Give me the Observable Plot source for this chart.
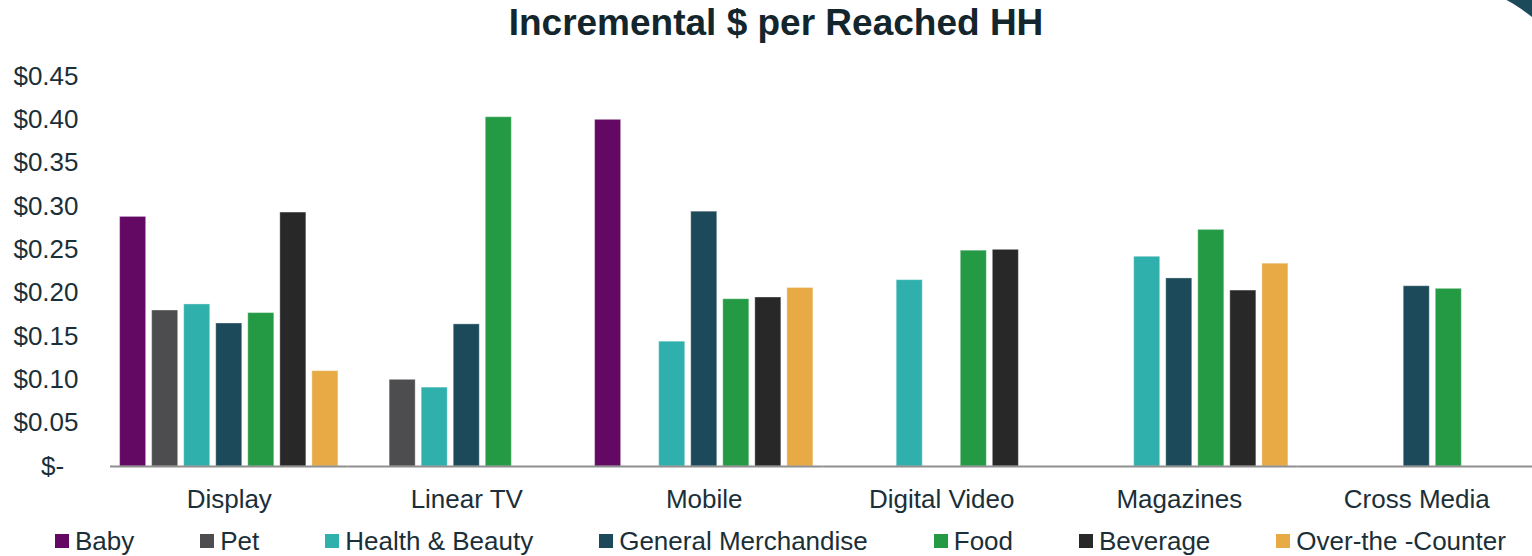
<!DOCTYPE html>
<html>
<head>
<meta charset="utf-8">
<script src="https://cdn.jsdelivr.net/npm/d3@7"></script>
<script src="https://cdn.jsdelivr.net/npm/@observablehq/plot@0.6"></script>
<style>
  html, body { margin: 0; padding: 0; background: #ffffff; }
  body { width: 1532px; height: 556px; position: relative; overflow: hidden;
         font-family: "Liberation Sans", Arial, sans-serif; }
  #title { position: absolute; top: 4px; left: 776px; transform: translateX(-50%);
           font-size: 37px; line-height: 37px; font-weight: bold; color: #13262e; white-space: nowrap; }
  #chart { position: absolute; top: 0; left: 0; }
  #legend { position: absolute; top: 528px; left: 55px; display: flex; gap: 66px;
            font-size: 26px; line-height: 26px; color: #1b2f38; white-space: nowrap; }
  #legend .item { display: flex; align-items: center; }
  #legend .sw { width: 14px; height: 14px; margin-right: 6px; }
  #corner { position: absolute; top: 0; left: 0; }
</style>
</head>
<body>
<div id="chart"></div>
<div id="title">Incremental $ per Reached HH</div>
<div id="legend"></div>
<svg id="corner" width="1532" height="40"><path d="M1506.5,0 L1532,0 L1532,17 Q1518,6 1506.5,0 Z" fill="#1d4a5a"/></svg>
<script>
const categories = ["Display", "Linear TV", "Mobile", "Digital Video", "Magazines", "Cross Media"];
const series = ["Baby", "Pet", "Health & Beauty", "General Merchandise", "Food", "Beverage", "Over-the -Counter"];
const colors = ["#630863", "#4d4d4f", "#2fb0ad", "#1c4a5a", "#249a44", "#282828", "#e8aa44"];
const baby        = [0.288, null,  0.400, null,  null,  null ];
const pet         = [0.180, 0.100, null,  null,  null,  null ];
const healthBeauty= [0.187, 0.091, 0.144, 0.215, 0.242, null ];
const generalMerch= [0.165, 0.164, 0.294, null,  0.217, 0.208];
const food        = [0.177, 0.403, 0.193, 0.249, 0.273, 0.205];
const beverage    = [0.293, null,  0.195, 0.250, 0.203, null ];
const otc         = [0.110, null,  0.206, null,  0.234, null ];
const yTicks = [0, 0.05, 0.10, 0.15, 0.20, 0.25, 0.30, 0.35, 0.40, 0.45];

const seriesValues = [baby, pet, healthBeauty, generalMerch, food, beverage, otc];
const data = [];
series.forEach((s, i) => {
  categories.forEach((c, j) => {
    const v = seriesValues[i][j];
    if (v != null) data.push({category: c, series: s, value: v});
  });
});

const chart = Plot.plot({
  width: 1532,
  height: 530,
  marginLeft: 110,
  marginRight: -3,
  marginTop: 76,
  marginBottom: 64,
  style: {fontFamily: '"Liberation Sans", Arial, sans-serif', fontSize: "26px", color: "#1b2f38", background: "transparent", overflow: "visible"},
  fx: {domain: categories, padding: 0, round: false, label: null},
  x: {domain: series, paddingInner: 0.1875, paddingOuter: 0.3, round: false, axis: null},
  y: {domain: [0, 0.45], label: null},
  color: {domain: series, range: colors},
  marks: [
    Plot.barY(data, {fx: "category", x: "series", y: "value", fill: "series", stroke: "#ffffff", strokeOpacity: 0.35, strokeWidth: 1}),
    Plot.ruleY([0], {stroke: "#8f8f8f", strokeWidth: 2}),
    Plot.axisY({ticks: yTicks, tickSize: 0, tickPadding: 32, fontSize: 26, label: null,
      tickFormat: d => d === 0 ? "$-\u00a0\u00a0" : "$" + d.toFixed(2)}),
    Plot.axisFx({anchor: "bottom", tickSize: 0, tickPadding: 23, fontSize: 26, label: null})
  ]
});
document.getElementById("chart").appendChild(chart);

const legend = document.getElementById("legend");
series.forEach((s, i) => {
  const item = document.createElement("div");
  item.className = "item";
  const sw = document.createElement("span");
  sw.className = "sw";
  sw.style.background = colors[i];
  const t = document.createElement("span");
  t.textContent = s;
  item.appendChild(sw);
  item.appendChild(t);
  legend.appendChild(item);
});
</script>
</body>
</html>
